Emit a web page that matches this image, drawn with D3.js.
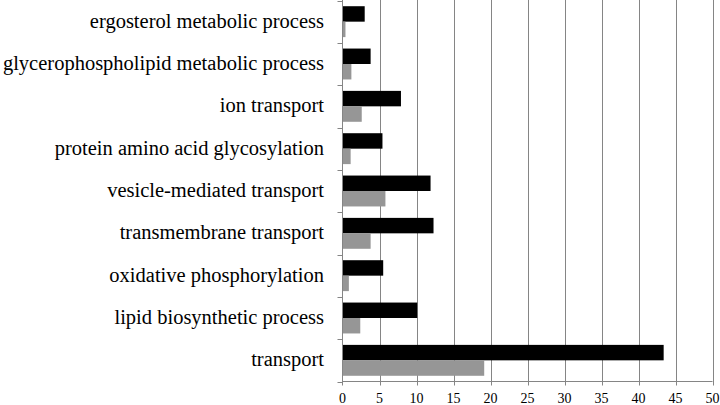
<!DOCTYPE html>
<html><head><meta charset="utf-8">
<script src="https://cdn.jsdelivr.net/npm/d3@7"></script>
<style>body{margin:0;background:#fff}svg{display:block}</style>
</head><body>
<svg id="c" width="720" height="405"></svg>
<script>
const categories = ["ergosterol metabolic process","glycerophospholipid metabolic process","ion transport","protein amino acid glycosylation","vesicle-mediated transport","transmembrane transport ","oxidative phosphorylation","lipid biosynthetic process","transport"];
const seriesBlack = [3.0,3.8,7.9,5.4,11.9,12.3,5.5,10.1,43.4];
const seriesGray = [0.4,1.2,2.6,1.1,5.8,3.8,0.86,2.4,19.15];
const xTicks = [0,5,10,15,20,25,30,35,40,45,50];

const svg = d3.select("#c");
const L = 342.5, R = 712.5, T = 0.5, B = 381.5;
const x = d3.scaleLinear().domain([0,50]).range([L,R]);
const y = d3.scaleBand().domain(categories).range([T,B]);
const sub = d3.scaleBand().domain(["black","gray"]).range([0,y.bandwidth()]).paddingOuter(0.37).paddingInner(0);

// gridlines
svg.append("g").selectAll("line").data(xTicks.slice(1)).join("line")
  .attr("x1",d=>Math.round(x(d))+0.5).attr("x2",d=>Math.round(x(d))+0.5)
  .attr("y1",0).attr("y2",B+4).attr("stroke","#858585").attr("stroke-width",1);

const g = svg.append("g");
categories.forEach((c,i)=>{
  g.append("rect").attr("x",x(0)).attr("y",y(c)+sub("black"))
    .attr("width",x(seriesBlack[i])-x(0)).attr("height",sub.bandwidth()).attr("fill","#000");
  g.append("rect").attr("x",x(0)).attr("y",y(c)+sub("gray"))
    .attr("width",x(seriesGray[i])-x(0)).attr("height",sub.bandwidth()).attr("fill","#969696");
});

// axes lines
svg.append("line").attr("x1",L).attr("x2",L).attr("y1",0).attr("y2",B+4).attr("stroke","#858585");
svg.append("line").attr("x1",L).attr("x2",R).attr("y1",B).attr("y2",B).attr("stroke","#858585");
// category boundary ticks
const bounds = categories.map(c=>y(c)).concat([B]);
svg.append("g").selectAll("line").data(bounds).join("line")
  .attr("x1",L-5).attr("x2",L).attr("y1",d=>Math.round(d)+0.5).attr("y2",d=>Math.round(d)+0.5)
  .attr("stroke","#858585");

// category labels
svg.append("g").selectAll("text").data(categories).join("text")
  .attr("x",324).attr("y",d=>y(d)+y.bandwidth()/2)
  .attr("dy","0.3em").attr("text-anchor","end")
  .attr("font-family","'Liberation Serif', serif").attr("font-size",20.5).attr("fill","#000")
  .text(d=>d);

// x tick labels
svg.append("g").selectAll("text").data(xTicks).join("text")
  .attr("x",d=>x(d)).attr("y",403).attr("text-anchor","middle")
  .attr("font-family","'Liberation Serif', serif").attr("font-size",14).attr("fill","#000")
  .text(d=>d);
</script>
</body></html>
